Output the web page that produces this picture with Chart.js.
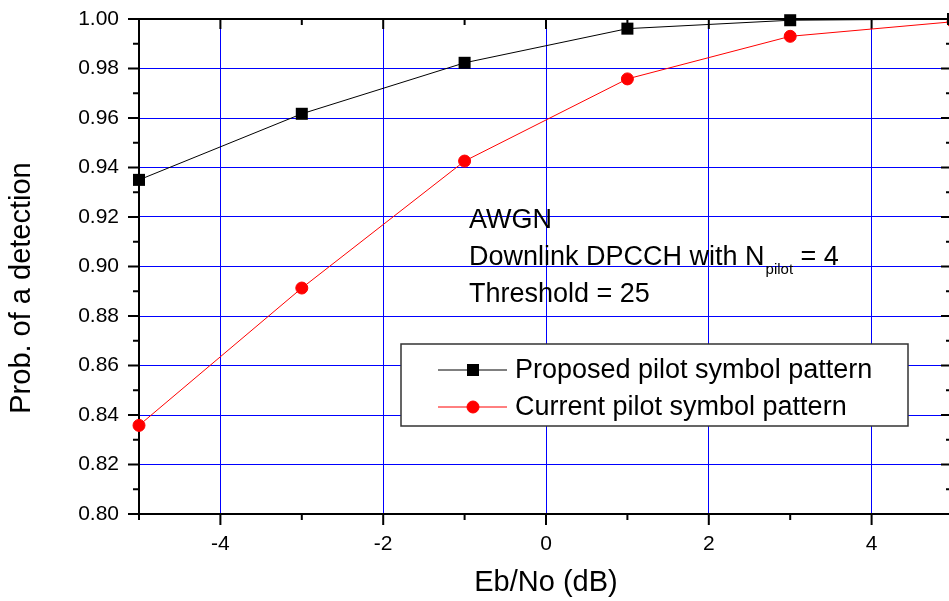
<!DOCTYPE html>
<html>
<head>
<meta charset="utf-8">
<script src="https://cdn.jsdelivr.net/npm/chart.js@4.4.1/dist/chart.umd.min.js"></script>
<style>
  html, body { margin: 0; padding: 0; background: #fff; overflow: hidden; }
  #wrap { position: relative; width: 949px; height: 601px; overflow: hidden; }
  #chart { display: block; width: 956px; height: 601px; max-width: none; }
</style>
</head>
<body>
<div id="wrap"><canvas id="chart" width="956" height="601"></canvas></div>
<script>
// Données
const ebno = [-5, -3, -1, 1, 3, 5];
const proposed = [0.935, 0.9617, 0.9823, 0.9961, 0.9995, 1.0];
const current = [0.8358, 0.8913, 0.9426, 0.9758, 0.9930, 0.9989];
const seriesNames = ['Proposed pilot symbol pattern', 'Current pilot symbol pattern'];
const yTitle = 'Prob. of a detection';

// Graduations
const xTicks = [-4, -2, 0, 2, 4];
const xMinor = [-5, -3, -1, 1, 3, 5];
const yTicks = [0.80, 0.82, 0.84, 0.86, 0.88, 0.90, 0.92, 0.94, 0.96, 0.98, 1.00];
const yMinor = [0.81, 0.83, 0.85, 0.87, 0.89, 0.91, 0.93, 0.95, 0.97, 0.99];

const FONT = 'Liberation Sans, Arial, Helvetica, sans-serif';

// Cadre + petites graduations des quatre côtés
const framePlugin = {
  id: 'frame',
  beforeDatasetsDraw(chart) {
    const { ctx, chartArea: a, scales } = chart;
    const x = scales.x, y = scales.y;
    ctx.save();
    ctx.strokeStyle = '#000';
    ctx.lineWidth = 2;
    ctx.strokeRect(a.left, a.top, a.right - a.left, a.bottom - a.top);
    ctx.beginPath();
    xTicks.forEach(function (v) {
      const px = x.getPixelForValue(v);
      ctx.moveTo(px, a.bottom); ctx.lineTo(px, a.bottom + 11);
      ctx.moveTo(px, a.top); ctx.lineTo(px, a.top + 10);
    });
    xMinor.forEach(function (v) {
      const px = x.getPixelForValue(v);
      ctx.moveTo(px, a.bottom); ctx.lineTo(px, a.bottom + 6);
      ctx.moveTo(px, a.top); ctx.lineTo(px, a.top + 6);
    });
    yTicks.forEach(function (v) {
      const py = y.getPixelForValue(v);
      ctx.moveTo(a.left - 11, py); ctx.lineTo(a.left, py);
      ctx.moveTo(a.right - 12, py); ctx.lineTo(a.right, py);
    });
    yMinor.forEach(function (v) {
      const py = y.getPixelForValue(v);
      ctx.moveTo(a.left - 6, py); ctx.lineTo(a.left, py);
      ctx.moveTo(a.right - 7, py); ctx.lineTo(a.right, py);
    });
    ctx.stroke();
    ctx.restore();
  }
};

// Titre vertical, légende encadrée et texte d'annotation
const notesPlugin = {
  id: 'notes',
  afterDraw(chart) {
    const ctx = chart.ctx;
    ctx.save();
    // titre de l'axe y (un peu plus bas que le centre, comme l'original)
    ctx.save();
    ctx.translate(22, 288);
    ctx.rotate(-Math.PI / 2);
    ctx.fillStyle = '#000';
    ctx.font = '29px ' + FONT;
    ctx.textAlign = 'center';
    ctx.textBaseline = 'middle';
    ctx.fillText(yTitle, 0, 0);
    ctx.restore();

    // texte
    ctx.fillStyle = '#000';
    ctx.textBaseline = 'alphabetic';
    ctx.textAlign = 'left';
    ctx.font = '27px ' + FONT;
    ctx.fillText('AWGN', 469, 228);
    const part1 = 'Downlink DPCCH with N';
    ctx.fillText(part1, 469, 265);
    let cx = 469 + ctx.measureText(part1).width + 1;
    ctx.font = '15px ' + FONT;
    ctx.fillText('pilot', cx, 274);
    cx += ctx.measureText('pilot').width;
    ctx.font = '27px ' + FONT;
    ctx.fillText(' = 4', cx, 265);
    ctx.fillText('Threshold = 25', 469, 302);

    // légende
    ctx.fillStyle = '#fff';
    ctx.fillRect(401, 344, 507, 82);
    ctx.strokeStyle = '#333';
    ctx.lineWidth = 1.5;
    ctx.strokeRect(401, 344, 507, 82);
    const rows = [370, 407];
    chart.data.datasets.forEach(function (ds, i) {
      const yy = rows[i];
      ctx.strokeStyle = ds.borderColor;
      ctx.lineWidth = ds.borderWidth;
      ctx.beginPath();
      ctx.moveTo(438, yy); ctx.lineTo(507, yy);
      ctx.stroke();
      ctx.fillStyle = ds.backgroundColor;
      Chart.helpers.drawPoint(ctx, {
        pointStyle: ds.pointStyle,
        radius: ds.pointRadius,
        borderWidth: ds.pointBorderWidth,
        rotation: 0
      }, 473, yy);
      ctx.fillStyle = '#000';
      ctx.font = '27px ' + FONT;
      ctx.textBaseline = 'middle';
      ctx.fillText(ds.label, 515, yy + 1);
    });
    ctx.restore();
  }
};

function noOverhang(scale) {
  scale.paddingTop = 0;
  scale.paddingBottom = 0;
  scale.paddingLeft = 0;
  scale.paddingRight = 0;
}

const myChart = new Chart(document.getElementById('chart').getContext('2d'), {
  type: 'scatter',
  data: {
    datasets: [
      {
        label: seriesNames[0],
        data: ebno.map(function (v, i) { return { x: v, y: proposed[i] }; }),
        showLine: true,
        borderColor: '#000',
        backgroundColor: '#000',
        borderWidth: 1,
        pointStyle: 'rect',
        pointRadius: 8.5,
        pointHoverRadius: 8.5,
        pointBorderWidth: 0,
        clip: false
      },
      {
        label: seriesNames[1],
        data: ebno.map(function (v, i) { return { x: v, y: current[i] }; }),
        showLine: true,
        borderColor: '#ff0000',
        backgroundColor: '#ff0000',
        borderWidth: 1,
        pointStyle: 'circle',
        pointRadius: 6,
        pointHoverRadius: 6,
        pointBorderWidth: 1,
        clip: false
      }
    ]
  },
  options: {
    responsive: false,
    animation: false,
    layout: { autoPadding: false, padding: { top: 19, right: 3, left: 0, bottom: 0 } },
    plugins: {
      legend: { display: false },
      tooltip: { enabled: false }
    },
    scales: {
      x: {
        type: 'linear',
        min: -5,
        max: 5,
        afterBuildTicks: function (scale) {
          scale.ticks = xTicks.map(function (v) { return { value: v }; });
        },
        afterFit: function (scale) { scale.height = 87; noOverhang(scale); },
        grid: { color: '#0000ff', lineWidth: 1, drawTicks: false },
        border: { display: false },
        ticks: {
          padding: 18,
          color: '#000',
          font: { family: FONT, size: 21 },
          callback: function (v) { return String(v); }
        },
        title: {
          display: true,
          text: 'Eb/No (dB)',
          color: '#000',
          font: { family: FONT, size: 29 },
          padding: { top: 0, bottom: 1 }
        }
      },
      y: {
        type: 'linear',
        min: 0.8,
        max: 1.0,
        afterBuildTicks: function (scale) {
          scale.ticks = yTicks.map(function (v) { return { value: v }; });
        },
        afterFit: function (scale) { scale.width = 139; noOverhang(scale); },
        grid: { color: '#0000ff', lineWidth: 1, drawTicks: false },
        border: { display: false },
        ticks: {
          padding: 20,
          color: '#000',
          font: { family: FONT, size: 21 },
          callback: function (v) { return Number(v).toFixed(2); }
        },
        title: { display: false }
      }
    }
  },
  plugins: [framePlugin, notesPlugin]
});
</script>
</body>
</html>
